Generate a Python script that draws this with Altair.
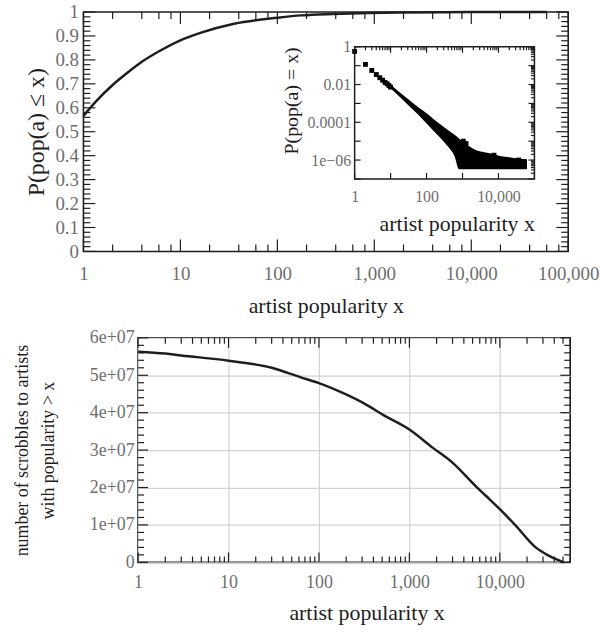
import altair as alt
import pandas as pd

FONT = "Liberation Serif"
INK = "#1e1e1e"
GREY = "#6e6e6e"

# ---------------- data ----------------
# top panel: cumulative distribution P(pop(a) <= x)
cdf_x = [1, 1.34, 2, 2.8, 4, 5.9, 10, 16.4, 35.8, 100, 176, 850, 1850, 5000, 20000, 60000]
cdf_p = [0.566, 0.626, 0.695, 0.744, 0.792, 0.834, 0.882, 0.914, 0.951, 0.976, 0.986,
         0.996, 0.998, 0.9993, 0.9998, 1.0]

# inset: P(pop(a) = x) -- isolated points
head_x = [1, 2, 3, 4, 5, 6, 7, 8, 9, 10, 1050, 1250, 7500, 36600]
head_p = [0.57, 0.117, 0.056, 0.034, 0.023, 0.017, 0.013, 0.011, 0.0088, 0.0073,
          1.0e-5, 7.5e-6, 1.8e-6, 1.0e-6]
# inset: envelope of the dense cloud of points
band_x = [5, 8, 12, 20, 35, 60, 100, 150, 250, 400, 600,
          800, 1000, 1500, 2500, 4000, 7000, 12000, 20000, 35000, 62000]
band_hi = [0.03, 0.0145, 0.0075, 0.0033, 0.0014, 6.0e-4, 3.0e-4, 1.6e-4, 7.5e-5, 3.8e-5, 2.2e-5,
           1.4e-5, 9.5e-6, 5.5e-6, 3.2e-6, 2.6e-6, 2.1e-6, 1.6e-6, 1.4e-6, 1.2e-6, 1.1e-6]
band_lo = [0.02, 0.009, 0.0045, 0.0018, 6.5e-4, 2.4e-4, 8.5e-5, 3.8e-5, 1.4e-5, 5.0e-6, 1.6e-6,
           3.3e-7, 3.3e-7, 3.3e-7, 3.3e-7, 3.3e-7, 3.3e-7, 3.3e-7, 3.3e-7, 3.3e-7, 3.3e-7]

# bottom panel: scrobbles to artists with popularity > x
scr_x = [1, 2, 3, 10, 30, 62, 100, 186, 336, 513, 1000, 1820, 3013, 5400, 7000,
         10000, 15000, 24900, 34700, 50800]
scr_y = [5.63e7, 5.58e7, 5.53e7, 5.39e7, 5.2e7, 4.95e7, 4.79e7, 4.52e7, 4.21e7, 3.94e7,
         3.55e7, 3.06e7, 2.66e7, 2.04e7, 1.78e7, 1.42e7, 0.98e7, 0.4e7, 0.18e7, 0]

# tick positions
top_x_major = [1, 10, 100, 1000, 10000, 100000]
top_x_minor = [m * 10 ** k for k in range(5) for m in (2, 4, 6, 8)]
top_y_major = [round(i * 0.1, 2) for i in range(11)]
top_y_minor = [round(i * 0.02, 2) for i in range(51) if i % 5]

ins_x_major = [1, 10, 100, 1000, 10000, 100000]
ins_x_labels = [1, 100, 10000]
ins_x_minor = [m * 10 ** k for k in range(5) for m in range(2, 10)]
ins_y_major = [1e-7, 1e-6, 1e-5, 1e-4, 1e-3, 1e-2, 1e-1, 1]
ins_y_labels = [1e-6, 1e-4, 1e-2, 1]
ins_y_minor = [m * 10.0 ** k for k in range(-7, 0) for m in range(2, 10)]

bot_x_major = [1, 10, 100, 1000, 10000]
bot_x_minor = [m * 10 ** k for k in range(5) for m in range(2, 10) if m * 10 ** k <= 60000]
bot_y_major = [i * 1e7 for i in range(7)]
bot_y_minor = [i * 2e6 for i in range(31) if i % 5]

# ---------------- sizes / scales ----------------
W1, H1 = 488, 241
W2, H2 = 435, 226
SHIFT = 55

xs1 = alt.Scale(type="log", domain=[1, 100000], nice=False)
ys1 = alt.Scale(type="linear", domain=[0, 1], nice=False, zero=False)
xsi = alt.Scale(type="log", domain=[1, 100000], range=[273, 454], nice=False)
ysi = alt.Scale(type="log", domain=[1e-7, 1], range=[168, 35], nice=False)
xs2 = alt.Scale(type="log", domain=[1, 60000], nice=False)
ys2 = alt.Scale(type="linear", domain=[0, 6e7], nice=False, zero=False)

AX = dict(ticks=False, domain=False, labelFlush=False, labelOverlap=False,
          labelFont=FONT, titleFont=FONT, labelColor=GREY, titleColor=INK,
          titleFontWeight="normal")

ax1x = alt.Axis(values=top_x_major, format=",", title="artist popularity x", grid=False,
                labelPadding=13, labelFontSize=19, titleFontSize=22, titlePadding=12, **AX)
ax1y = alt.Axis(values=top_y_major, format="~g", title="P(pop(a) ≤ x)", grid=False,
                labelPadding=5, labelFontSize=19, titleFontSize=24, titlePadding=6, **AX)
axix = alt.Axis(orient="bottom", offset=-(H1 - 168), values=ins_x_labels, format=",",
                grid=False, title="artist popularity x", titleAnchor="end", titleFontSize=22,
                labelPadding=10, labelFontSize=16, titlePadding=9, **AX)
axiy = alt.Axis(orient="left", offset=-273, values=ins_y_labels, grid=False,
                labelExpr="datum.value < 0.00001 ? '1e\u221206' : format(datum.value, '~g')",
                title="P(pop(a) = x)", titleAnchor="end", titleFontSize=20,
                labelPadding=4, labelFontSize=16, titlePadding=6, **AX)
ax2x = alt.Axis(values=bot_x_major, format=",", title="artist popularity x", grid=True,
                gridColor="#d2d2d2", gridWidth=1.2, labelPadding=11, labelFontSize=18,
                titleFontSize=22, titlePadding=12, titleX=230, **AX)
ax2y = alt.Axis(values=bot_y_major, grid=True, gridColor="#d2d2d2", gridWidth=1.2,
                labelExpr="datum.value == 0 ? '0' : format(datum.value / 1e7, 'd') + 'e+07'",
                title=["number of scrobbles to artists", "with popularity > x"],
                titleLineHeight=26, labelPadding=4, labelFontSize=18, titleFontSize=18,
                titlePadding=32, **AX)


def hticks(vals, xs, ys, xa, ya, at, length, width=1.2):
    """vertical tick marks on a horizontal frame edge"""
    return alt.Chart(pd.DataFrame({"v": vals})).mark_rule(
        color=INK, strokeWidth=width, y2Offset=length
    ).encode(
        x=alt.X("v:Q", scale=xs, axis=xa),
        y=alt.YDatum(at, type="quantitative", scale=ys, axis=ya),
        y2=alt.Y2Datum(at),
    )


def vticks(vals, xs, ys, xa, ya, at, length, width=1.2):
    """horizontal tick marks on a vertical frame edge"""
    return alt.Chart(pd.DataFrame({"v": vals})).mark_rule(
        color=INK, strokeWidth=width, x2Offset=length
    ).encode(
        y=alt.Y("v:Q", scale=ys, axis=ya),
        x=alt.XDatum(at, type="quantitative", scale=xs, axis=xa),
        x2=alt.X2Datum(at),
    )


def frame_ticks(xs, ys, xa, ya, x0, x1, y0, y1, xmaj, xmin, ymaj, ymin, lmaj, lmin):
    return [
        hticks(xmaj, xs, ys, xa, ya, y0, -lmaj), hticks(xmaj, xs, ys, xa, ya, y1, lmaj),
        hticks(xmin, xs, ys, xa, ya, y0, -lmin), hticks(xmin, xs, ys, xa, ya, y1, lmin),
        vticks(ymaj, xs, ys, xa, ya, x0, lmaj), vticks(ymaj, xs, ys, xa, ya, x1, -lmaj),
        vticks(ymin, xs, ys, xa, ya, x0, lmin), vticks(ymin, xs, ys, xa, ya, x1, -lmin),
    ]


# ---------------- top panel ----------------
main_line = alt.Chart(pd.DataFrame({"x": cdf_x, "p": cdf_p})).mark_line(
    color=INK, strokeWidth=2.5, interpolate="monotone"
).encode(
    x=alt.X("x:Q", scale=xs1, axis=ax1x),
    y=alt.Y("p:Q", scale=ys1, axis=ax1y),
)

main_group = alt.layer(
    main_line,
    *frame_ticks(xs1, ys1, ax1x, ax1y, 1, 100000, 0, 1, top_x_major, top_x_minor,
                 top_y_major, top_y_minor, 12, 7),
)

inset_frame = alt.Chart(pd.DataFrame({"k": [0]})).mark_rect(
    fill="white", stroke=INK, strokeWidth=1.5
).encode(
    x=alt.XDatum(1, type="quantitative", scale=xsi, axis=axix),
    x2=alt.X2Datum(100000),
    y=alt.YDatum(1e-7, type="quantitative", scale=ysi, axis=axiy),
    y2=alt.Y2Datum(1),
)

inset_band = alt.Chart(pd.DataFrame({"x": band_x, "hi": band_hi, "lo": band_lo})).mark_area(
    color="black", interpolate="monotone"
).encode(
    x=alt.X("x:Q", scale=xsi, axis=axix),
    y=alt.Y("hi:Q", scale=ysi, axis=axiy),
    y2="lo:Q",
)

inset_pts = alt.Chart(pd.DataFrame({"x": head_x, "p": head_p})).mark_square(
    color="black", size=24, opacity=1
).encode(
    x=alt.X("x:Q", scale=xsi, axis=axix),
    y=alt.Y("p:Q", scale=ysi, axis=axiy),
)

inset_group = alt.layer(
    inset_frame, inset_band, inset_pts,
    hticks(ins_x_major, xsi, ysi, axix, axiy, 1e-7, -6),
    hticks(ins_x_major, xsi, ysi, axix, axiy, 1, 6),
    hticks(ins_x_minor, xsi, ysi, axix, axiy, 1, 3.5),
    vticks(ins_y_major, xsi, ysi, axix, axiy, 1, 6),
    vticks(ins_y_major, xsi, ysi, axix, axiy, 100000, -6),
    vticks(ins_y_minor, xsi, ysi, axix, axiy, 100000, -3.5),
)

top = alt.layer(main_group, inset_group).resolve_scale(
    x="independent", y="independent"
).properties(width=W1, height=H1)

# ---------------- bottom panel ----------------
bot_line = alt.Chart(pd.DataFrame({"x": scr_x, "s": scr_y})).mark_line(
    color=INK, strokeWidth=2.5, interpolate="monotone"
).encode(
    x=alt.X("x:Q", scale=xs2, axis=ax2x),
    y=alt.Y("s:Q", scale=ys2, axis=ax2y),
)

bottom = alt.layer(
    bot_line,
    *frame_ticks(xs2, ys2, ax2x, ax2y, 1, 60000, 0, 6e7, bot_x_major, bot_x_minor,
                 bot_y_major, bot_y_minor, 10, 6),
).properties(width=W2, height=H2)

spacer = alt.Chart(pd.DataFrame({"k": [0]})).mark_point(opacity=0).encode(
    x=alt.value(0), y=alt.value(0)
).properties(width=SHIFT, height=H2, view=alt.ViewConfig(stroke="transparent"))

lower = alt.hconcat(spacer, bottom, spacing=0, bounds="flush")

chart = alt.vconcat(top, lower, spacing=11).properties(
    padding={"left": 13, "top": 0, "right": 0, "bottom": 5}
).configure_view(stroke=INK, strokeWidth=1.6)

chart.save("out.html", embed_options={"renderer": "svg", "actions": False})
